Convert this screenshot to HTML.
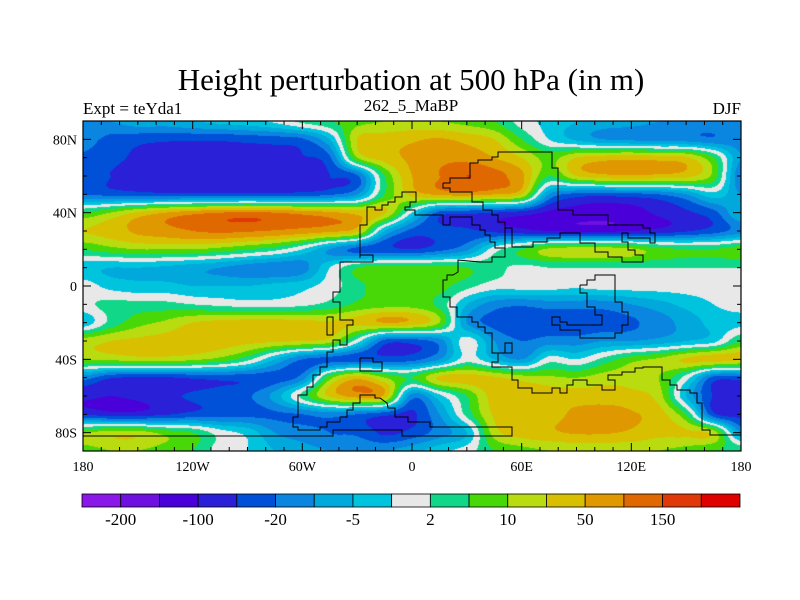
<!DOCTYPE html>
<html><head><meta charset="utf-8"><style>
body{margin:0;background:#fff;}
#wrap{position:relative;width:800px;height:600px;overflow:hidden;}
canvas{position:absolute;left:0;top:0;}
svg{position:absolute;left:0;top:0;}
text{font-family:"Liberation Serif",serif;fill:#000;}
</style></head><body>
<div id="wrap">
<canvas id="cv" width="800" height="600"></canvas>
<svg id="sv" width="800" height="600">
<text x="411" y="90" font-size="31" text-anchor="middle">Height perturbation at 500 hPa (in m)</text>
<text x="83" y="114" font-size="17">Expt = teYda1</text>
<text x="411" y="111" font-size="17" text-anchor="middle">262_5_MaBP</text>
<text x="741" y="114" font-size="17" text-anchor="end">DJF</text>
</svg>
</div>
<script>
// ---- data ----
const lons=[-180,-165,-150,-135,-120,-105,-90,-75,-60,-45,-30,-15,0,15,30,45,60,75,90,105,120,135,150,165,180];
const lats=[90,80,70,60,50,40,30,20,10,0,-10,-20,-30,-40,-50,-60,-70,-80,-90];
const levels=[-200,-150,-100,-50,-20,-10,-5,-2,2,5,10,20,50,100,150,200];
const levelLabels=["-200","-100","-20","-5","2","10","50","150"];
const colors=['#8a18e8','#6e10e0','#4a00d8','#2a20d8','#0050d8','#0a86e0','#00a8dc','#00c4de','#e8e8e8','#10d888','#48d808','#b8dc10','#d8c000','#e09800','#e06800','#e03808','#e00000'];
const h90=[-10,-10,-7,-7,-5,-4,-3,-1,3,5,8,10,12,10,8,5,0,-3,-5,-7,-8,-10,-12,-12,-10];
const h80=[-15,-30,-40,-45,-45,-45,-40,-35,-25,-5,20,35,45,55,40,20,5,-2,-6,-10,-12,-15,-15,-18,-15];
const h70=[-25,-40,-60,-70,-75,-75,-75,-70,-55,-25,10,35,60,85,80,50,20,8,20,35,40,35,25,5,-10];
const h60=[-30,-50,-70,-80,-85,-85,-85,-80,-70,-50,-25,5,50,100,150,120,60,5,20,40,45,40,30,8,-20];
const h50=[-20,-30,-35,-40,-40,-40,-40,-40,-35,-25,-10,5,30,60,70,50,20,-10,-30,-35,-30,-20,-10,-3,-10];
const h40=[5,10,25,50,80,100,110,100,80,60,40,25,-2,-30,-40,-50,-70,-110,-120,-125,-120,-90,-60,-30,-5];
const h30=[20,35,60,80,100,110,105,95,80,60,30,-5,-30,-40,-45,-60,-80,-100,-110,-110,-100,-80,-55,-35,-15];
const h20=[5,8,10,10,10,8,5,3,-2,-10,-30,-40,-50,-30,-12,0,5,12,15,15,12,7,5,5,8];
const h10=[-4,-5,-5,-6,-8,-10,-15,-18,-15,-2,5,7,7,7,5,3,1,2,2,2,2,2,2,2,2];
const h00=[0,-3,-4,-4,-5,-5,-5,-4,-3,0,4,8,8,7,3,0,0,0,-1,0,0,0,0,0,0];
const hS10=[1,3,3,3,2,1,0,0,1,3,6,8,8,4,-5,-15,-18,-15,-15,-15,-10,-7,-4,-2,0];
const hS20=[-4,3,8,12,20,30,35,35,30,25,30,50,40,10,-10,-30,-40,-40,-40,-35,-25,-15,-8,-4,-3];
const hS30=[15,20,25,30,35,35,30,25,20,15,0,-30,-35,-15,0,-10,-20,-15,-15,-10,-10,-8,-5,-3,5];
const hS40=[10,12,15,15,12,8,3,-5,-20,-30,-35,-35,-30,-10,0,-5,-10,0,-2,3,8,12,25,35,25];
const hS50=[-15,-45,-55,-55,-45,-40,-40,-35,-15,8,40,10,5,25,35,25,15,12,10,15,15,10,0,-30,-35];
const hS60=[-90,-100,-90,-65,-45,-35,-25,-8,3,25,70,40,-15,-3,5,35,40,40,35,35,30,15,-5,-55,-85];
const hS70=[-55,-75,-75,-55,-40,-35,-30,-25,-20,-15,-20,-40,-60,-10,3,25,40,40,60,70,55,35,5,-40,-70];
const hS80=[10,15,15,8,5,0,-3,-10,-15,-20,-25,-60,-40,-15,-5,15,35,45,55,55,45,30,25,15,-10];
const hS90=[8,10,10,8,5,0,-2,-5,-8,-10,-10,-10,-7,-3,0,5,8,10,12,12,12,10,8,5,5];
const heightRows=[h90,h80,h70,h60,h50,h40,h30,h20,h10,h00,hS10,hS20,hS30,hS40,hS50,hS60,hS70,hS80,hS90];
const xTickLabels=["180","120W","60W","0","60E","120E","180"];
const xTickLons=[-180,-120,-60,0,60,120,180];
const yTickLabels=["80N","40N","0","40S","80S"];
const yTickLats=[80,40,0,-40,-80];

// ---- scales ----
const X0=83,X1=741,Y0=121,Y1=451;
const xScale=lon=>X0+(lon+180)/360*(X1-X0);
const yScale=lat=>Y0+(90-lat)/180*(Y1-Y0);
function toIdx(v){
  if(v<=levels[0]) return 1-(levels[0]-v)/100;
  if(v>=levels[15]) return 16+(v-levels[15])/100;
  for(let i=0;i<15;i++){ if(v<levels[i+1]) return i+1+(v-levels[i])/(levels[i+1]-levels[i]); }
  return 16;
}
const G=heightRows.map(r=>r.map(toIdx));
const nr=G.length,nc=G[0].length;
function cr(p0,p1,p2,p3,t){return 0.5*((2*p1)+(-p0+p2)*t+(2*p0-5*p1+4*p2-p3)*t*t+(-p0+3*p1-3*p2+p3)*t*t*t);}
function g(r,c){r=Math.max(0,Math.min(nr-1,r));c=Math.max(0,Math.min(nc-1,c));return G[r][c];}
function sample(fr,fc){
  const r=Math.floor(fr),c=Math.floor(fc),tr=fr-r,tc=fc-c;const rows=[];
  for(let k=-1;k<=2;k++) rows.push(cr(g(r+k,c-1),g(r+k,c),g(r+k,c+1),g(r+k,c+2),tc));
  return cr(rows[0],rows[1],rows[2],rows[3],tr);
}
function hex(h){return [parseInt(h.slice(1,3),16),parseInt(h.slice(3,5),16),parseInt(h.slice(5,7),16)];}
const rgb=colors.map(hex);
const cv=document.getElementById('cv');const ctx=cv.getContext('2d');
const W=X1-X0,H=Y1-Y0;const img=ctx.createImageData(W,H);
const lonStep=lons[1]-lons[0],latStep=lats[0]-lats[1];
for(let py=0;py<H;py++){
  const lat=90-(py+0.5)/H*180;const fr=(lats[0]-lat)/latStep;
  for(let px=0;px<W;px++){
    const lon=-180+(px+0.5)/W*360;const fc=(lon-lons[0])/lonStep;
    let b=Math.floor(sample(fr,fc));b=Math.max(0,Math.min(16,b));
    const o=(py*W+px)*4;img.data[o]=rgb[b][0];img.data[o+1]=rgb[b][1];img.data[o+2]=rgb[b][2];img.data[o+3]=255;
  }
}
ctx.putImageData(img,X0,Y0);

// ---- svg overlay ----
const NS="http://www.w3.org/2000/svg";const sv=document.getElementById('sv');
function mk(t,a){const e=document.createElementNS(NS,t);for(const k in a)e.setAttribute(k,a[k]);sv.appendChild(e);return e;}
const coast=[
"360,258 360,225 367,225 367,207 375,207 375,210 382,210 382,205 388,205 388,202 395,202 395,197 402,197 402,192 416,192 416,202 410,202 410,207 405,207 405,210 415,210 415,215 443,215 443,225 450,225 450,217 472,217 472,225 480,225 480,230 485,230 485,235 490,235 490,242 495,242 495,248 505,248 505,257",
"443,183 450,183 450,178 470,178 470,163 478,163 478,160 492,160 492,157 498,157 498,152 552,152 552,168 558,168 558,210 573,210 573,215 608,215 608,225 643,225 643,228 650,228 650,233 655,233 655,243 650,243 650,238 628,238 628,233 622,233 622,242 628,242 628,250 635,250 635,255 643,255 643,262 622,262 622,257 608,257 608,252 595,252 595,243 580,243 580,233 560,233 560,238 547,238 547,242 533,242 533,247 512,247 512,228 505,228",
"443,183 443,188 450,188 450,192 472,192 472,202 483,202 483,210 492,210 492,215 498,215 498,222 505,222 505,257 492,257 492,262 480,262 458,260 458,272 453,275 447,275 447,280 443,280 443,297 450,297 450,307 457,307 457,317 472,317 472,322 478,322 478,327 485,327 485,333 492,333 492,353 505,353 505,343 512,343 512,353 498,353 498,362 492,362 492,367 512,367 512,380 518,380 518,388 532,388 532,393 552,393 552,388 560,388 560,393 567,393 567,385 573,385 573,380 587,380 587,385 602,385 602,390 615,390 615,380 608,380 608,375 622,375 622,372 635,372 635,368 643,368 643,367 662,367 662,380 670,380 670,385 677,385 677,390 690,390 690,393 697,393 697,403 702,403 702,430 710,430 710,435 741,435",
"580,285 587,285 587,280 595,280 595,275 615,275 615,302 622,302 622,312 628,312 628,325 622,325 622,333 615,333 615,338 580,338 580,330 560,330 560,325 552,325 552,317 560,317 560,322 567,322 567,325 580,325 595,325 602,325 602,315 595,315 595,307 587,307 587,293 580,293 580,285",
"340,262 373,262 373,255 360,255",
"340,262 340,292 333,292 333,302 340,302 340,320 353,320 353,325 347,325 347,345 340,345 340,340 333,340 333,352 327,352 327,367 320,367 320,375 313,375 313,387 307,387 307,395 298,395 298,417 293,417 293,427 298,427 298,430 320,430 320,427 327,427 327,422 340,422 340,417 347,417 347,410 353,410 353,403 360,403 360,395 375,395 375,398 380,398 387,403 388,408 395,408 395,417 408,417 408,422 430,422 430,427 512,427 512,436 402,436 402,430 333,430 333,436 83,436",
"327,317 333,317 333,335 327,335 327,317",
"360,358 373,358 373,362 382,362 382,371 360,371 360,358"
];
coast.forEach((p,i)=>{const e=mk('polyline',{points:p,fill:'none',stroke:'#000','stroke-width':1});

});
const frame=mk('rect',{x:X0,y:Y0,width:W,height:H,fill:'none',stroke:'#000','stroke-width':1.2});


for(let lon=-180;lon<=180;lon+=10){const x=xScale(lon);const L=(lon%60===0)?8:4;
 const t1=mk('line',{x1:x,y1:Y1,x2:x,y2:Y1-L,stroke:'#000'});
 
 
 const t2=mk('line',{x1:x,y1:Y0,x2:x,y2:Y0+L,stroke:'#000'});
 
 }
for(let lat=-90;lat<=90;lat+=10){const y=yScale(lat);const L=(lat%40===0)?8:4;
 const t1=mk('line',{x1:X0,y1:y,x2:X0+L,y2:y,stroke:'#000'});
 
 
 const t2=mk('line',{x1:X1,y1:y,x2:X1-L,y2:y,stroke:'#000'});
 
 }
xTickLons.forEach((lon,i)=>{const t=mk('text',{x:xScale(lon),y:Y1+20,'font-size':14,'text-anchor':'middle'});t.textContent=xTickLabels[i];
 
 });
yTickLats.forEach((lat,i)=>{const t=mk('text',{x:X0-6,y:yScale(lat)+5,'font-size':14,'text-anchor':'end'});t.textContent=yTickLabels[i];
 
 });
// colorbar
const CB0=82,CB1=740,CBy=494,CBh=13,bw=(CB1-CB0)/colors.length;
colors.forEach((c,i)=>{const r=mk('rect',{x:CB0+i*bw,y:CBy,width:bw,height:CBh,fill:c,stroke:'#000','stroke-width':0.8});
 
 });
levelLabels.forEach((s,i)=>{const t=mk('text',{x:CB0+(2*i+1)*bw,y:CBy+31,'font-size':17,'text-anchor':'middle'});t.textContent=s;
 
 });
</script>
</body></html>
